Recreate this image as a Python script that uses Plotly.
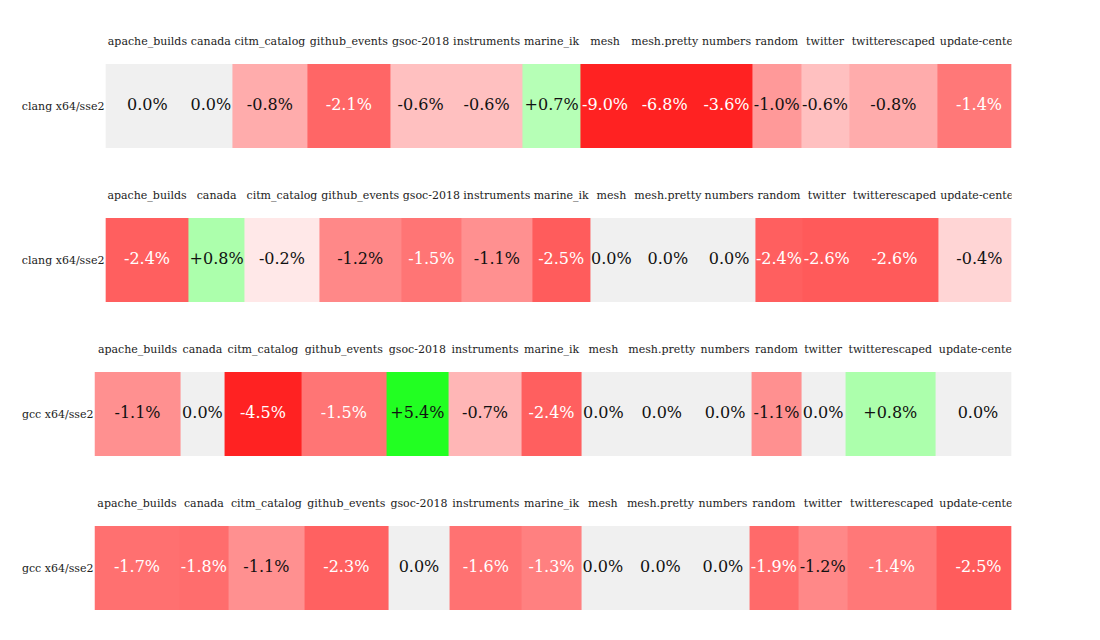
import plotly.graph_objects as go

# ---------------- data ----------------
row_labels = ["clang x64/sse2", "clang x64/sse2", "gcc x64/sse2", "gcc x64/sse2"]
benchmarks = ["apache_builds", "canada", "citm_catalog", "github_events", "gsoc-2018",
              "instruments", "marine_ik", "mesh", "mesh.pretty", "numbers", "random",
              "twitter", "twitterescaped", "update-center"]
clang_run1 = [0.0, 0.0, -0.8, -2.1, -0.6, -0.6, 0.7, -9.0, -6.8, -3.6, -1.0, -0.6, -0.8, -1.4]
clang_run2 = [-2.4, 0.8, -0.2, -1.2, -1.5, -1.1, -2.5, 0.0, 0.0, 0.0, -2.4, -2.6, -2.6, -0.4]
gcc_run1 = [-1.1, 0.0, -4.5, -1.5, 5.4, -0.7, -2.4, 0.0, 0.0, 0.0, -1.1, 0.0, 0.8, 0.0]
gcc_run2 = [-1.7, -1.8, -1.1, -2.3, 0.0, -1.6, -1.3, 0.0, 0.0, 0.0, -1.9, -1.2, -1.4, -2.5]
series = [clang_run1, clang_run2, gcc_run1, gcc_run2]

# ---------------- style / layout constants ----------------
W, H = 1100, 640
FONT = "DejaVu Serif"
LABEL_SIZE = 11
VALUE_SIZE = 16
ROW_TOPS = [56, 210, 364, 518]      # px from top of the figure
ROW_H = 84
LABEL_LEFT = 13
TABLE_RIGHT = 1019                  # natural right end of each table row
CLIP_RIGHT = 1010                   # visible right edge (container clips)

# approximate DejaVu Serif advance widths (em) used for auto column sizing
CW = {'a': .596, 'b': .640, 'c': .560, 'd': .640, 'e': .592, 'f': .370, 'g': .640, 'h': .644,
      'i': .320, 'j': .310, 'k': .606, 'l': .320, 'm': .948, 'n': .644, 'o': .602, 'p': .640,
      'q': .640, 'r': .478, 's': .513, 't': .402, 'u': .644, 'v': .565, 'w': .856, 'x': .564,
      'y': .565, 'z': .527, '_': .5, '-': .338, '.': .318, '%': .948, '+': .838, ' ': .318,
      '/': .337}
for d in "0123456789":
    CW[d] = .636


def text_w(s, size):
    return sum(CW.get(ch, 0.6) for ch in s) * size


def fmt(v):
    if v == 0:
        return "0.0%"
    return ("+" if v > 0 else "-") + "%.1f%%" % abs(v)


# intensity anchors: |change| -> value of the two non-dominant channels
ANCH = [(0.0, 255), (0.2, 232), (0.4, 213), (0.6, 192), (0.8, 172), (1.0, 153), (1.2, 136),
        (1.4, 120), (1.6, 114), (2.0, 104), (2.4, 95), (2.6, 90), (3.0, 62), (3.5, 34), (99, 34)]


def chan(a):
    for (x0, c0), (x1, c1) in zip(ANCH[:-1], ANCH[1:]):
        if a <= x1:
            return c0 + (c1 - c0) * (a - x0) / (x1 - x0)
    return 34


def rgb_for(v):
    if abs(v) < 0.05:
        return (240, 240, 240)
    c = round(chan(abs(v)))
    return (255, c, c) if v < 0 else (c, 255, c)


def css(rgb):
    return "rgb(%d,%d,%d)" % rgb


def lum(rgb):
    lin = [((x / 255) / 12.92 if x / 255 <= 0.04045 else (((x / 255) + 0.055) / 1.055) ** 2.4) for x in rgb]
    return 0.2126 * lin[0] + 0.7152 * lin[1] + 0.0722 * lin[2]


# diverging colorscale over [-ZR, ZR] with a neutral grey band at zero
ZR = 4.0
stops = []
steps = [round(-ZR + i * 0.05, 2) for i in range(int(2 * ZR / 0.05) + 1)]
for v in steps:
    p = (v + ZR) / (2 * ZR)
    if 0.049 < abs(v) < 0.051:
        inner = (240, 240, 240)
        outer = rgb_for(v * 1.02)
        if v < 0:
            stops.append([p - 1e-4, css(outer)])
            stops.append([p, css(inner)])
        else:
            stops.append([p, css(inner)])
            stops.append([p + 1e-4, css(outer)])
    else:
        stops.append([p, css(rgb_for(v))])
stops[0][0] = 0.0
stops[-1][0] = 1.0

fig = go.Figure()
layout_axes = {}

for r, (rlab, vals) in enumerate(zip(row_labels, series)):
    left = LABEL_LEFT + text_w(rlab, LABEL_SIZE) + 2.5
    texts = [fmt(v) for v in vals]
    content = [max(text_w(b, LABEL_SIZE * 1.045), text_w(t, VALUE_SIZE * 1.025)) + 1
               for b, t in zip(benchmarks, texts)]
    scale = (TABLE_RIGHT - left) / sum(content)
    widths = [c * scale for c in content]
    edges = [0.0]
    for w_ in widths:
        edges.append(edges[-1] + w_)
    centers = [(a + b) / 2 for a, b in zip(edges[:-1], edges[1:])]

    sfx = "" if r == 0 else str(r + 1)
    xa, ya = "x" + sfx, "y" + sfx

    fig.add_trace(go.Heatmap(
        z=[[max(-ZR, min(ZR, v)) for v in vals]], x=edges, y=[rlab],
        zmin=-ZR, zmax=ZR, colorscale=stops, showscale=False,
        hoverinfo="skip", xaxis=xa, yaxis=ya))

    tcolors = ["#ffffff" if lum(rgb_for(v)) < 0.395 else "#111111" for v in vals]
    fig.add_trace(go.Scatter(
        x=centers, y=[rlab] * len(vals), mode="text", text=texts,
        textfont=dict(family=FONT, size=VALUE_SIZE, color=tcolors),
        hoverinfo="skip", showlegend=False, xaxis=xa, yaxis=ya))

    top = ROW_TOPS[r]
    layout_axes["xaxis" + sfx] = dict(
        domain=[left / W, CLIP_RIGHT / W], range=[0, CLIP_RIGHT - left], anchor=ya,
        side="top", tickmode="array", tickvals=centers, ticktext=benchmarks, tickangle=0,
        ticks="", ticklabelstandoff=16, showgrid=False, zeroline=False, showline=False,
        tickfont=dict(family=FONT, size=LABEL_SIZE, color="#222222"), fixedrange=True)
    layout_axes["yaxis" + sfx] = dict(
        domain=[1 - (top + ROW_H) / H, 1 - top / H], anchor=xa, ticks="",
        showgrid=False, zeroline=False, showline=False,
        tickfont=dict(family=FONT, size=LABEL_SIZE, color="#222222"), fixedrange=True)

fig.update_layout(
    width=W, height=H, autosize=False,
    margin=dict(l=0, r=0, t=0, b=0),
    paper_bgcolor="white", plot_bgcolor="white",
    font=dict(family=FONT, size=LABEL_SIZE, color="#222222"),
    showlegend=False,
    shapes=[dict(type="rect", xref="paper", yref="paper", x0=CLIP_RIGHT / W, x1=1,
                 y0=0, y1=1, fillcolor="white", line=dict(width=0), layer="above")],
    **layout_axes)

fig.write_html("out.html")
